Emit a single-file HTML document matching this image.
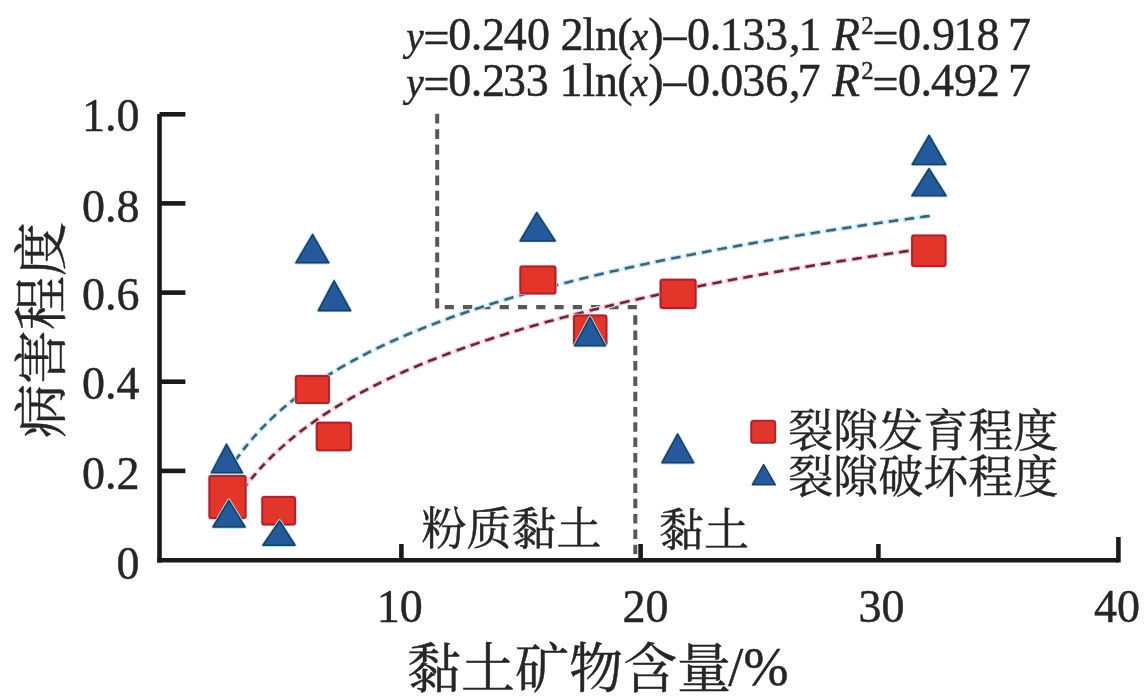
<!DOCTYPE html>
<html><head><meta charset="utf-8"><title>chart</title>
<style>
html,body{margin:0;padding:0;background:#fff;}
body{width:1147px;height:696px;overflow:hidden;}
svg{display:block;filter:blur(0.35px);}
.sq{fill:#e3352a;stroke:#a82430;stroke-width:2;}
.sqh .sq{fill:none;stroke:#f9c4ca;stroke-width:3.4;}
.tr{fill:#245a9b;stroke:#1c3f60;stroke-width:1.6;stroke-linejoin:round;}
.trh .tr{fill:none;stroke:#b4e2f4;stroke-width:3.4;}
text{stroke:#262626;stroke-width:0.45;}
</style></head><body>
<svg width="1147" height="696" viewBox="0 0 1147 696">
<g stroke="#585858" stroke-width="4.0" fill="none"><path d="M437.2,113.8 L437.2,309.5" stroke-dasharray="9.8 5.6"/><path d="M444.7,307.2 L637.5,307.2" stroke-dasharray="9.2 9.1" stroke-width="4.2"/><path d="M635.3,315.2 L635.3,558" stroke-dasharray="9.5 5.8"/></g>
<g fill="none" stroke-linecap="butt">
<path d="M228.2,471.3 232.9,464.1 237.6,457.4 242.2,451.1 246.9,445.2 251.6,439.6 256.3,434.3 261.0,429.2 265.7,424.4 270.3,419.8 275.0,415.4 279.7,411.1 284.4,407.1 289.1,403.1 293.8,399.4 298.4,395.7 303.1,392.2 307.8,388.8 312.5,385.5 317.2,382.3 321.8,379.2 326.5,376.2 331.2,373.3 335.9,370.4 340.6,367.7 345.3,365.0 349.9,362.3 354.6,359.8 359.3,357.3 364.0,354.8 368.7,352.4 373.4,350.1 378.0,347.8 382.7,345.6 387.4,343.4 392.1,341.3 396.8,339.2 401.4,337.1 406.1,335.1 410.8,333.1 415.5,331.2 420.2,329.3 424.9,327.4 429.5,325.6 434.2,323.8 438.9,322.0 443.6,320.2 448.3,318.5 453.0,316.8 457.6,315.2 462.3,313.5 467.0,311.9 471.7,310.3 476.4,308.8 481.0,307.2 485.7,305.7 490.4,304.2 495.1,302.8 499.8,301.3 504.5,299.9 509.1,298.5 513.8,297.1 518.5,295.7 523.2,294.3 527.9,293.0 532.6,291.7 537.2,290.4 541.9,289.1 546.6,287.8 551.3,286.5 556.0,285.3 560.7,284.1 565.3,282.9 570.0,281.7 574.7,280.5 579.4,279.3 584.1,278.1 588.7,277.0 593.4,275.8 598.1,274.7 602.8,273.6 607.5,272.5 612.2,271.4 616.8,270.4 621.5,269.3 626.2,268.2 630.9,267.2 635.6,266.2 640.3,265.1 644.9,264.1 649.6,263.1 654.3,262.1 659.0,261.1 663.7,260.2 668.3,259.2 673.0,258.2 677.7,257.3 682.4,256.4 687.1,255.4 691.8,254.5 696.4,253.6 701.1,252.7 705.8,251.8 710.5,250.9 715.2,250.0 719.9,249.1 724.5,248.3 729.2,247.4 733.9,246.5 738.6,245.7 743.3,244.8 747.9,244.0 752.6,243.2 757.3,242.4 762.0,241.5 766.7,240.7 771.4,239.9 776.0,239.1 780.7,238.4 785.4,237.6 790.1,236.8 794.8,236.0 799.5,235.3 804.1,234.5 808.8,233.7 813.5,233.0 818.2,232.2 822.9,231.5 827.5,230.8 832.2,230.0 836.9,229.3 841.6,228.6 846.3,227.9 851.0,227.2 855.6,226.5 860.3,225.8 865.0,225.1 869.7,224.4 874.4,223.7 879.1,223.0 883.7,222.3 888.4,221.7 893.1,221.0 897.8,220.3 902.5,219.7 907.2,219.0 911.8,218.4 916.5,217.7 921.2,217.1 925.9,216.4 930.6,215.8" stroke="#eaf6fa" stroke-width="3.5"/>
<path d="M228.2,511.0 232.9,503.7 237.6,496.8 242.2,490.3 246.9,484.2 251.6,478.4 256.3,472.9 261.0,467.7 265.7,462.7 270.3,458.0 275.0,453.4 279.7,449.1 284.4,444.9 289.1,440.8 293.8,436.9 298.4,433.2 303.1,429.6 307.8,426.0 312.5,422.7 317.2,419.4 321.8,416.2 326.5,413.1 331.2,410.1 335.9,407.1 340.6,404.3 345.3,401.5 349.9,398.8 354.6,396.1 359.3,393.6 364.0,391.0 368.7,388.6 373.4,386.2 378.0,383.8 382.7,381.5 387.4,379.3 392.1,377.1 396.8,374.9 401.4,372.8 406.1,370.7 410.8,368.7 415.5,366.7 420.2,364.7 424.9,362.8 429.5,360.9 434.2,359.0 438.9,357.2 443.6,355.4 448.3,353.6 453.0,351.9 457.6,350.2 462.3,348.5 467.0,346.8 471.7,345.2 476.4,343.6 481.0,342.0 485.7,340.4 490.4,338.9 495.1,337.4 499.8,335.9 504.5,334.4 509.1,333.0 513.8,331.5 518.5,330.1 523.2,328.7 527.9,327.3 532.6,326.0 537.2,324.6 541.9,323.3 546.6,322.0 551.3,320.7 556.0,319.4 560.7,318.1 565.3,316.9 570.0,315.6 574.7,314.4 579.4,313.2 584.1,312.0 588.7,310.8 593.4,309.7 598.1,308.5 602.8,307.4 607.5,306.2 612.2,305.1 616.8,304.0 621.5,302.9 626.2,301.8 630.9,300.7 635.6,299.7 640.3,298.6 644.9,297.6 649.6,296.5 654.3,295.5 659.0,294.5 663.7,293.5 668.3,292.5 673.0,291.5 677.7,290.5 682.4,289.6 687.1,288.6 691.8,287.7 696.4,286.7 701.1,285.8 705.8,284.9 710.5,283.9 715.2,283.0 719.9,282.1 724.5,281.2 729.2,280.3 733.9,279.5 738.6,278.6 743.3,277.7 747.9,276.9 752.6,276.0 757.3,275.2 762.0,274.3 766.7,273.5 771.4,272.7 776.0,271.8 780.7,271.0 785.4,270.2 790.1,269.4 794.8,268.6 799.5,267.8 804.1,267.0 808.8,266.3 813.5,265.5 818.2,264.7 822.9,264.0 827.5,263.2 832.2,262.5 836.9,261.7 841.6,261.0 846.3,260.2 851.0,259.5 855.6,258.8 860.3,258.1 865.0,257.3 869.7,256.6 874.4,255.9 879.1,255.2 883.7,254.5 888.4,253.8 893.1,253.1 897.8,252.5 902.5,251.8 907.2,251.1 911.8,250.4 916.5,249.8 921.2,249.1 925.9,248.4 930.6,247.8" stroke="#fbe8ec" stroke-width="3.5"/>
<path d="M228.2,471.3 229.6,469.1 231.0,466.9 232.4,464.8M234.8,461.4 236.2,459.4 237.6,457.4 239.0,455.5 239.9,454.2M242.7,450.5 244.1,448.7 245.5,446.9 246.9,445.2 248.3,443.5M250.7,440.7 252.1,439.0 253.5,437.4 254.9,435.8 256.3,434.3 256.8,433.8M259.6,430.7 261.0,429.2 262.4,427.7 263.8,426.3 265.2,424.9 266.1,423.9M268.9,421.1 270.3,419.8 271.7,418.4 273.1,417.1 274.6,415.8 276.0,414.5M279.2,411.5 280.6,410.3 282.0,409.1 283.5,407.9 284.9,406.7 286.3,405.5 286.7,405.1M289.5,402.8 290.9,401.6 292.3,400.5 293.8,399.4 295.2,398.3 296.6,397.2 297.5,396.4M300.8,393.9 302.2,392.9 303.6,391.9 305.0,390.8 306.4,389.8 307.8,388.8 308.7,388.1M312.0,385.8 313.4,384.9 314.8,383.9 316.2,382.9 317.6,382.0 319.0,381.1 320.4,380.1M324.2,377.7 325.6,376.8 327.0,375.9 328.4,375.0 329.8,374.1 331.2,373.3 332.6,372.4 333.1,372.1M336.4,370.2 337.8,369.3 339.2,368.5 340.6,367.7 342.0,366.8 343.4,366.0 344.8,365.2 345.3,365.0M349.0,362.9 350.4,362.1 351.8,361.3 353.2,360.5 354.6,359.8 356.0,359.0 357.4,358.3 358.4,357.8M362.1,355.8 363.5,355.1 364.9,354.3 366.3,353.6 367.7,352.9 369.1,352.2 370.5,351.5 371.5,351.0M375.2,349.2 376.6,348.5 378.0,347.8 379.4,347.2 380.8,346.5 382.2,345.8 383.7,345.2 385.1,344.5M388.8,342.8 390.2,342.1 391.6,341.5 393.0,340.8 394.4,340.2 395.8,339.6 397.2,339.0 398.6,338.3M402.4,336.7 403.8,336.1 405.2,335.5 406.6,334.9 408.0,334.3 409.4,333.7 410.8,333.1 412.2,332.5 412.7,332.3M416.4,330.8 417.8,330.2 419.2,329.7 420.6,329.1 422.1,328.5 423.5,328.0 424.9,327.4 426.3,326.8 426.7,326.7M430.5,325.2 431.9,324.7 433.3,324.1 434.7,323.6 436.1,323.0 437.5,322.5 438.9,322.0 440.3,321.5 440.8,321.3M445.0,319.7 446.4,319.2 447.8,318.7 449.2,318.2 450.6,317.7 452.0,317.2 453.4,316.7 454.8,316.2 455.3,316.0M459.0,314.7 460.4,314.2 461.9,313.7 463.3,313.2 464.7,312.7 466.1,312.2 467.5,311.8 468.9,311.3 469.8,311.0M473.6,309.7 475.0,309.2 476.4,308.8 477.8,308.3 479.2,307.9 480.6,307.4 482.0,306.9 483.4,306.5 484.3,306.2M488.5,304.8 489.9,304.4 491.4,303.9 492.8,303.5 494.2,303.1 495.6,302.6 497.0,302.2 498.4,301.7 498.8,301.6M503.1,300.3 504.5,299.9 505.9,299.4 507.3,299.0 508.7,298.6 510.1,298.2 511.5,297.8 512.9,297.3 513.8,297.1M518.0,295.8 519.4,295.4 520.9,295.0 522.3,294.6 523.7,294.2 525.1,293.8 526.5,293.4 527.9,293.0 528.8,292.7M533.0,291.5 534.4,291.1 535.8,290.8 537.2,290.4 538.6,290.0 540.0,289.6 541.5,289.2 542.9,288.8 543.8,288.6M548.0,287.4 549.4,287.0 550.8,286.7 552.2,286.3 553.6,285.9 555.0,285.5 556.4,285.2 557.8,284.8 558.8,284.6M563.0,283.5 564.4,283.1 565.8,282.7 567.2,282.4 568.6,282.0 570.0,281.7 571.4,281.3 572.8,280.9 573.8,280.7M578.0,279.6 579.4,279.3 580.8,278.9 582.2,278.6 583.6,278.2 585.0,277.9 586.4,277.6 587.8,277.2 588.7,277.0M593.4,275.8 594.8,275.5 596.2,275.2 597.6,274.8 599.0,274.5 600.5,274.2 601.9,273.8 603.3,273.5 604.2,273.3M608.4,272.3 609.8,272.0 611.2,271.6 612.6,271.3 614.0,271.0 615.4,270.7 616.8,270.4 618.2,270.0 619.6,269.7M623.9,268.8 625.3,268.4 626.7,268.1 628.1,267.8 629.5,267.5 630.9,267.2 632.3,266.9 633.7,266.6 634.6,266.4M638.8,265.4 640.3,265.1 641.7,264.8 643.1,264.5 644.5,264.2 645.9,263.9 647.3,263.6 648.7,263.3 650.1,263.0M654.3,262.1 655.7,261.8 657.1,261.5 658.5,261.2 659.9,260.9 661.3,260.6 662.7,260.4 664.1,260.1 665.5,259.8M669.8,258.9 671.2,258.6 672.6,258.3 674.0,258.0 675.4,257.8 676.8,257.5 678.2,257.2 679.6,256.9 681.0,256.6M685.2,255.8 686.6,255.5 688.0,255.2 689.4,255.0 690.8,254.7 692.2,254.4 693.6,254.1 695.0,253.9 696.4,253.6M700.7,252.8 702.1,252.5 703.5,252.2 704.9,252.0 706.3,251.7 707.7,251.4 709.1,251.1 710.5,250.9 711.9,250.6M716.1,249.8 717.5,249.6 718.9,249.3 720.3,249.0 721.7,248.8 723.1,248.5 724.5,248.3 725.9,248.0 727.3,247.7M731.6,247.0 733.0,246.7 734.4,246.5 735.8,246.2 737.2,245.9 738.6,245.7 740.0,245.4 741.4,245.2 742.8,244.9M747.0,244.2 748.4,243.9 749.8,243.7 751.2,243.4 752.6,243.2 754.0,242.9 755.4,242.7 756.8,242.4 758.2,242.2M762.5,241.5 763.9,241.2 765.3,241.0 766.7,240.7 768.1,240.5 769.5,240.3 770.9,240.0 772.3,239.8 773.7,239.5M778.4,238.7 779.8,238.5 781.2,238.3 782.6,238.0 784.0,237.8 785.4,237.6 786.8,237.3 788.2,237.1 789.6,236.9M793.8,236.2 795.2,235.9 796.6,235.7 798.1,235.5 799.5,235.3 800.9,235.0 802.3,234.8 803.7,234.6 805.1,234.3M809.3,233.7 810.7,233.4 812.1,233.2 813.5,233.0 814.9,232.8 816.3,232.5 817.7,232.3 819.1,232.1 820.5,231.9M825.2,231.1 826.6,230.9 828.0,230.7 829.4,230.5 830.8,230.3 832.2,230.0 833.6,229.8 835.0,229.6 836.4,229.4M840.7,228.7 842.1,228.5 843.5,228.3 844.9,228.1 846.3,227.9 847.7,227.7 849.1,227.5 850.5,227.2 851.9,227.0M856.1,226.4 857.5,226.2 858.9,226.0 860.3,225.8 861.7,225.6 863.1,225.4 864.5,225.1 865.9,224.9 867.4,224.7M872.0,224.0 873.4,223.8 874.8,223.6 876.2,223.4 877.7,223.2 879.1,223.0 880.5,222.8 881.9,222.6 883.3,222.4M887.5,221.8 888.9,221.6 890.3,221.4 891.7,221.2 893.1,221.0 894.5,220.8 895.9,220.6 897.3,220.4 898.7,220.2M903.4,219.5 904.8,219.4 906.2,219.2 907.6,219.0 909.0,218.8 910.4,218.6 911.8,218.4 913.2,218.2 914.6,218.0M918.9,217.4 920.3,217.2 921.7,217.0 923.1,216.8 924.5,216.6 925.9,216.4 927.3,216.3 928.7,216.1 930.1,215.9" stroke="#c6e7f2" stroke-width="5"/>
<path d="M228.2,511.0 229.6,508.8 231.0,506.5 232.4,504.4M234.8,500.8 236.2,498.8 237.6,496.8 239.0,494.8 239.9,493.5M242.2,490.3 243.6,488.4 245.1,486.6 246.5,484.8 247.9,483.0M250.2,480.1 251.6,478.4 253.0,476.7 254.4,475.1 255.8,473.4 256.3,472.9M259.1,469.7 260.5,468.2 261.9,466.7 263.3,465.2 264.7,463.7 265.2,463.2M268.0,460.3 269.4,458.9 270.8,457.5 272.2,456.1 273.6,454.8 275.0,453.4M277.8,450.8 279.2,449.5 280.6,448.2 282.0,446.9 283.5,445.7 284.9,444.4M288.1,441.6 289.5,440.4 290.9,439.3 292.3,438.1 293.8,436.9 295.2,435.8 295.6,435.4M298.9,432.8 300.3,431.7 301.7,430.6 303.1,429.6 304.5,428.5 305.9,427.4 306.9,426.7M310.1,424.3 311.5,423.3 312.9,422.3 314.4,421.3 315.8,420.3 317.2,419.4 318.6,418.4M321.8,416.2 323.3,415.2 324.7,414.3 326.1,413.4 327.5,412.5 328.9,411.6 330.3,410.7M334.0,408.3 335.4,407.4 336.8,406.5 338.2,405.7 339.6,404.8 341.0,404.0 342.4,403.2 342.9,402.9M346.2,400.9 347.6,400.1 349.0,399.3 350.4,398.5 351.8,397.7 353.2,396.9 354.6,396.1 355.6,395.6M359.3,393.6 360.7,392.8 362.1,392.0 363.5,391.3 364.9,390.6 366.3,389.8 367.7,389.1 368.7,388.6M372.4,386.7 373.8,385.9 375.2,385.2 376.6,384.5 378.0,383.8 379.4,383.1 380.8,382.4 381.8,382.0M385.5,380.2 386.9,379.5 388.3,378.8 389.7,378.2 391.1,377.5 392.6,376.9 394.0,376.2 395.4,375.6M399.1,373.8 400.5,373.2 401.9,372.6 403.3,372.0 404.7,371.3 406.1,370.7 407.5,370.1 408.9,369.5M413.2,367.7 414.6,367.1 416.0,366.5 417.4,365.9 418.8,365.3 420.2,364.7 421.6,364.1 423.0,363.6M426.7,362.0 428.1,361.5 429.5,360.9 430.9,360.3 432.4,359.8 433.8,359.2 435.2,358.7 436.6,358.1 437.0,357.9M441.2,356.3 442.7,355.8 444.1,355.2 445.5,354.7 446.9,354.2 448.3,353.6 449.7,353.1 451.1,352.6M455.3,351.0 456.7,350.5 458.1,350.0 459.5,349.5 460.9,349.0 462.3,348.5 463.7,348.0 465.1,347.5 465.6,347.3M469.8,345.9 471.2,345.4 472.6,344.9 474.0,344.4 475.4,343.9 476.8,343.4 478.2,343.0 479.6,342.5 480.1,342.3M484.3,340.9 485.7,340.4 487.1,340.0 488.5,339.5 489.9,339.1 491.4,338.6 492.8,338.1 494.2,337.7 494.6,337.5M498.8,336.2 500.2,335.7 501.7,335.3 503.1,334.9 504.5,334.4 505.9,334.0 507.3,333.5 508.7,333.1 509.6,332.8M513.8,331.5 515.2,331.1 516.6,330.7 518.0,330.2 519.4,329.8 520.9,329.4 522.3,329.0 523.7,328.6 524.1,328.4M528.3,327.2 529.7,326.8 531.2,326.4 532.6,326.0 534.0,325.6 535.4,325.2 536.8,324.8 538.2,324.4 539.1,324.1M543.3,322.9 544.7,322.5 546.1,322.1 547.5,321.7 548.9,321.3 550.3,320.9 551.8,320.6 553.2,320.2 554.1,319.9M558.3,318.8 559.7,318.4 561.1,318.0 562.5,317.6 563.9,317.3 565.3,316.9 566.7,316.5 568.1,316.1 569.1,315.9M573.3,314.8 574.7,314.4 576.1,314.1 577.5,313.7 578.9,313.3 580.3,313.0 581.7,312.6 583.1,312.3 584.1,312.0M588.7,310.8 590.2,310.5 591.6,310.1 593.0,309.8 594.4,309.4 595.8,309.1 597.2,308.7 598.6,308.4 599.5,308.2M603.7,307.1 605.1,306.8 606.5,306.5 607.9,306.1 609.3,305.8 610.8,305.4 612.2,305.1 613.6,304.8 614.5,304.6M618.7,303.6 620.1,303.2 621.5,302.9 622.9,302.6 624.3,302.2 625.7,301.9 627.1,301.6 628.5,301.3 630.0,301.0M634.2,300.0 635.6,299.7 637.0,299.4 638.4,299.0 639.8,298.7 641.2,298.4 642.6,298.1 644.0,297.8 644.9,297.6M649.6,296.5 651.0,296.2 652.4,295.9 653.8,295.6 655.2,295.3 656.6,295.0 658.0,294.7 659.5,294.4 660.4,294.2M664.6,293.3 666.0,293.0 667.4,292.7 668.8,292.4 670.2,292.1 671.6,291.8 673.0,291.5 674.4,291.2 675.8,290.9M680.1,290.1 681.5,289.8 682.9,289.5 684.3,289.2 685.7,288.9 687.1,288.6 688.5,288.3 689.9,288.0 691.3,287.8M695.5,286.9 696.9,286.6 698.3,286.3 699.7,286.1 701.1,285.8 702.5,285.5 703.9,285.2 705.3,284.9 706.7,284.7M711.0,283.8 712.4,283.6 713.8,283.3 715.2,283.0 716.6,282.8 718.0,282.5 719.4,282.2 720.8,281.9 722.2,281.7M726.4,280.9 727.8,280.6 729.2,280.3 730.6,280.1 732.0,279.8 733.4,279.5 734.8,279.3 736.2,279.0 737.6,278.8M741.9,278.0 743.3,277.7 744.7,277.5 746.1,277.2 747.5,276.9 748.9,276.7 750.3,276.4 751.7,276.2 753.1,275.9M757.3,275.2 758.7,274.9 760.1,274.7 761.5,274.4 762.9,274.2 764.3,273.9 765.7,273.7 767.1,273.4 768.6,273.2M772.8,272.4 774.2,272.2 775.6,271.9 777.0,271.7 778.4,271.4 779.8,271.2 781.2,270.9 782.6,270.7 784.0,270.5M788.7,269.7 790.1,269.4 791.5,269.2 792.9,268.9 794.3,268.7 795.7,268.5 797.1,268.2 798.5,268.0 799.9,267.7M804.1,267.0 805.5,266.8 806.9,266.6 808.4,266.3 809.8,266.1 811.2,265.9 812.6,265.6 814.0,265.4 815.4,265.2M819.6,264.5 821.0,264.3 822.4,264.0 823.8,263.8 825.2,263.6 826.6,263.4 828.0,263.1 829.4,262.9 830.8,262.7M835.5,261.9 836.9,261.7 838.3,261.5 839.7,261.3 841.1,261.0 842.5,260.8 843.9,260.6 845.3,260.4 846.7,260.2M851.0,259.5 852.4,259.3 853.8,259.1 855.2,258.9 856.6,258.6 858.0,258.4 859.4,258.2 860.8,258.0 862.2,257.8M866.4,257.1 867.8,256.9 869.2,256.7 870.6,256.5 872.0,256.3 873.4,256.1 874.8,255.9 876.2,255.6 877.7,255.4M882.3,254.7 883.7,254.5 885.1,254.3 886.5,254.1 888.0,253.9 889.4,253.7 890.8,253.5 892.2,253.3 893.6,253.1M897.8,252.5 899.2,252.3 900.6,252.1 902.0,251.8 903.4,251.6 904.8,251.4 906.2,251.2 907.6,251.0 909.0,250.8M913.7,250.2 915.1,250.0 916.5,249.8 917.9,249.6 919.3,249.4 920.7,249.2 922.1,249.0 923.5,248.8 924.9,248.6M929.2,248.0 930.6,247.8" stroke="#f6c8d3" stroke-width="5"/>
<path d="M228.2,471.3 229.6,469.1 231.0,466.9 232.4,464.8M235.2,460.7 236.6,458.7 238.0,456.8 239.4,454.9 239.9,454.2M243.2,449.9 244.6,448.1 246.0,446.4 247.4,444.6 247.9,444.1M251.6,439.6 253.0,438.0 254.4,436.4 255.8,434.8 256.8,433.8M260.5,429.7 261.9,428.2 263.3,426.8 264.7,425.3 266.1,423.9M269.9,420.2 271.3,418.9 272.7,417.5 274.1,416.2 275.5,414.9 276.0,414.5M280.2,410.7 281.6,409.5 283.0,408.3 284.4,407.1 285.8,405.9 286.3,405.5M290.5,402.0 291.9,400.9 293.3,399.7 294.7,398.6 296.1,397.5 297.0,396.8M301.7,393.2 303.1,392.2 304.5,391.2 305.9,390.1 307.3,389.1 308.3,388.5M313.4,384.9 314.8,383.9 316.2,382.9 317.6,382.0 319.0,381.1 320.4,380.1M325.1,377.1 326.5,376.2 327.9,375.3 329.3,374.4 330.7,373.6 332.1,372.7 332.6,372.4M337.3,369.6 338.7,368.8 340.1,367.9 341.5,367.1 342.9,366.3 344.3,365.5 345.3,365.0M350.4,362.1 351.8,361.3 353.2,360.5 354.6,359.8 356.0,359.0 357.4,358.3 357.9,358.0M363.1,355.3 364.5,354.6 365.9,353.9 367.3,353.2 368.7,352.4 370.1,351.7 371.0,351.3M376.6,348.5 378.0,347.8 379.4,347.2 380.8,346.5 382.2,345.8 383.7,345.2 384.6,344.7M390.2,342.1 391.6,341.5 393.0,340.8 394.4,340.2 395.8,339.6 397.2,339.0 398.2,338.5M403.8,336.1 405.2,335.5 406.6,334.9 408.0,334.3 409.4,333.7 410.8,333.1 412.2,332.5M417.8,330.2 419.2,329.7 420.6,329.1 422.1,328.5 423.5,328.0 424.9,327.4 426.3,326.8M431.9,324.7 433.3,324.1 434.7,323.6 436.1,323.0 437.5,322.5 438.9,322.0 440.3,321.5M445.9,319.4 447.3,318.9 448.7,318.4 450.1,317.8 451.5,317.3 453.0,316.8 454.4,316.3 454.8,316.2M460.4,314.2 461.9,313.7 463.3,313.2 464.7,312.7 466.1,312.2 467.5,311.8 468.9,311.3 469.3,311.1M475.0,309.2 476.4,308.8 477.8,308.3 479.2,307.9 480.6,307.4 482.0,306.9 483.4,306.5 483.9,306.3M489.5,304.5 490.9,304.1 492.3,303.6 493.7,303.2 495.1,302.8 496.5,302.3 497.9,301.9 498.4,301.7M504.5,299.9 505.9,299.4 507.3,299.0 508.7,298.6 510.1,298.2 511.5,297.8 512.9,297.3 513.4,297.2M519.4,295.4 520.9,295.0 522.3,294.6 523.7,294.2 525.1,293.8 526.5,293.4 527.9,293.0 528.3,292.9M534.0,291.3 535.4,290.9 536.8,290.5 538.2,290.1 539.6,289.7 541.0,289.3 542.4,288.9 543.3,288.7M548.9,287.2 550.3,286.8 551.8,286.4 553.2,286.0 554.6,285.7 556.0,285.3 557.4,284.9 558.3,284.7M564.4,283.1 565.8,282.7 567.2,282.4 568.6,282.0 570.0,281.7 571.4,281.3 572.8,280.9 573.3,280.8M579.4,279.3 580.8,278.9 582.2,278.6 583.6,278.2 585.0,277.9 586.4,277.6 587.8,277.2 588.3,277.1M594.4,275.6 595.8,275.3 597.2,275.0 598.6,274.6 600.0,274.3 601.4,273.9 602.8,273.6 603.7,273.4M609.8,272.0 611.2,271.6 612.6,271.3 614.0,271.0 615.4,270.7 616.8,270.4 618.2,270.0 618.7,269.9M624.8,268.5 626.2,268.2 627.6,267.9 629.0,267.6 630.4,267.3 631.8,267.0 633.2,266.7 634.2,266.5M640.3,265.1 641.7,264.8 643.1,264.5 644.5,264.2 645.9,263.9 647.3,263.6 648.7,263.3 649.6,263.1M655.7,261.8 657.1,261.5 658.5,261.2 659.9,260.9 661.3,260.6 662.7,260.4 664.1,260.1 665.1,259.9M671.2,258.6 672.6,258.3 674.0,258.0 675.4,257.8 676.8,257.5 678.2,257.2 679.6,256.9 680.5,256.7M686.6,255.5 688.0,255.2 689.4,255.0 690.8,254.7 692.2,254.4 693.6,254.1 695.0,253.9 696.0,253.7M702.1,252.5 703.5,252.2 704.9,252.0 706.3,251.7 707.7,251.4 709.1,251.1 710.5,250.9 711.4,250.7M717.5,249.6 718.9,249.3 720.3,249.0 721.7,248.8 723.1,248.5 724.5,248.3 725.9,248.0 726.9,247.8M733.0,246.7 734.4,246.5 735.8,246.2 737.2,245.9 738.6,245.7 740.0,245.4 741.4,245.2 742.3,245.0M748.4,243.9 749.8,243.7 751.2,243.4 752.6,243.2 754.0,242.9 755.4,242.7 756.8,242.4 757.8,242.3M763.9,241.2 765.3,241.0 766.7,240.7 768.1,240.5 769.5,240.3 770.9,240.0 772.3,239.8 773.2,239.6M779.3,238.6 780.7,238.4 782.1,238.1 783.5,237.9 784.9,237.6 786.3,237.4 787.7,237.2 788.7,237.0M795.2,235.9 796.6,235.7 798.1,235.5 799.5,235.3 800.9,235.0 802.3,234.8 803.7,234.6 804.6,234.4M810.7,233.4 812.1,233.2 813.5,233.0 814.9,232.8 816.3,232.5 817.7,232.3 819.1,232.1 820.1,231.9M826.1,231.0 827.5,230.8 829.0,230.5 830.4,230.3 831.8,230.1 833.2,229.9 834.6,229.7 836.0,229.5M842.1,228.5 843.5,228.3 844.9,228.1 846.3,227.9 847.7,227.7 849.1,227.5 850.5,227.2 851.4,227.1M857.5,226.2 858.9,226.0 860.3,225.8 861.7,225.6 863.1,225.4 864.5,225.1 865.9,224.9 866.9,224.8M873.4,223.8 874.8,223.6 876.2,223.4 877.7,223.2 879.1,223.0 880.5,222.8 881.9,222.6 882.8,222.5M888.9,221.6 890.3,221.4 891.7,221.2 893.1,221.0 894.5,220.8 895.9,220.6 897.3,220.4 898.3,220.3M904.8,219.4 906.2,219.2 907.6,219.0 909.0,218.8 910.4,218.6 911.8,218.4 913.2,218.2 914.2,218.0M920.3,217.2 921.7,217.0 923.1,216.8 924.5,216.6 925.9,216.4 927.3,216.3 928.7,216.1 929.6,215.9" stroke="#3d6476" stroke-width="2.6"/>
<path d="M228.2,511.0 229.6,508.8 231.0,506.5 232.4,504.4M235.2,500.1 236.6,498.1 238.0,496.1 239.4,494.1M242.7,489.7 244.1,487.8 245.5,486.0 246.9,484.2 247.4,483.6M251.1,479.0 252.5,477.3 254.0,475.6 255.4,474.0 255.8,473.4M259.6,469.2 261.0,467.7 262.4,466.2 263.8,464.7 264.7,463.7M268.9,459.4 270.3,458.0 271.7,456.6 273.1,455.2 274.6,453.9M278.8,449.9 280.2,448.6 281.6,447.4 283.0,446.1 284.4,444.9 284.9,444.4M289.1,440.8 290.5,439.6 291.9,438.5 293.3,437.3 294.7,436.2 295.2,435.8M299.8,432.1 301.2,431.0 302.6,429.9 304.1,428.8 305.5,427.8 306.4,427.1M311.1,423.7 312.5,422.7 313.9,421.7 315.3,420.7 316.7,419.7 318.1,418.7M322.8,415.5 324.2,414.6 325.6,413.7 327.0,412.8 328.4,411.9 329.8,411.0 330.3,410.7M335.0,407.7 336.4,406.8 337.8,406.0 339.2,405.1 340.6,404.3 342.0,403.4 342.4,403.2M347.6,400.1 349.0,399.3 350.4,398.5 351.8,397.7 353.2,396.9 354.6,396.1 355.1,395.9M360.2,393.1 361.6,392.3 363.1,391.5 364.5,390.8 365.9,390.1 367.3,389.3 368.2,388.8M373.4,386.2 374.8,385.5 376.2,384.8 377.6,384.1 379.0,383.4 380.4,382.7 381.3,382.2M386.9,379.5 388.3,378.8 389.7,378.2 391.1,377.5 392.6,376.9 394.0,376.2 394.9,375.8M400.5,373.2 401.9,372.6 403.3,372.0 404.7,371.3 406.1,370.7 407.5,370.1 408.5,369.7M414.1,367.3 415.5,366.7 416.9,366.1 418.3,365.5 419.7,364.9 421.1,364.3 422.5,363.7M428.1,361.5 429.5,360.9 430.9,360.3 432.4,359.8 433.8,359.2 435.2,358.7 436.6,358.1M442.2,355.9 443.6,355.4 445.0,354.9 446.4,354.3 447.8,353.8 449.2,353.3 450.6,352.8M456.7,350.5 458.1,350.0 459.5,349.5 460.9,349.0 462.3,348.5 463.7,348.0 465.1,347.5M470.7,345.5 472.2,345.0 473.6,344.6 475.0,344.1 476.4,343.6 477.8,343.1 479.2,342.6 479.6,342.5M485.3,340.6 486.7,340.1 488.1,339.7 489.5,339.2 490.9,338.8 492.3,338.3 493.7,337.8 494.2,337.7M500.2,335.7 501.7,335.3 503.1,334.9 504.5,334.4 505.9,334.0 507.3,333.5 508.7,333.1 509.1,333.0M514.8,331.2 516.2,330.8 517.6,330.4 519.0,330.0 520.4,329.5 521.8,329.1 523.2,328.7 523.7,328.6M529.7,326.8 531.2,326.4 532.6,326.0 534.0,325.6 535.4,325.2 536.8,324.8 538.2,324.4 538.6,324.2M544.7,322.5 546.1,322.1 547.5,321.7 548.9,321.3 550.3,320.9 551.8,320.6 553.2,320.2 553.6,320.0M559.7,318.4 561.1,318.0 562.5,317.6 563.9,317.3 565.3,316.9 566.7,316.5 568.1,316.1 568.6,316.0M574.7,314.4 576.1,314.1 577.5,313.7 578.9,313.3 580.3,313.0 581.7,312.6 583.1,312.3 583.6,312.1M589.7,310.6 591.1,310.2 592.5,309.9 593.9,309.5 595.3,309.2 596.7,308.9 598.1,308.5 599.0,308.3M605.1,306.8 606.5,306.5 607.9,306.1 609.3,305.8 610.8,305.4 612.2,305.1 613.6,304.8 614.0,304.7M620.1,303.2 621.5,302.9 622.9,302.6 624.3,302.2 625.7,301.9 627.1,301.6 628.5,301.3 629.5,301.1M635.6,299.7 637.0,299.4 638.4,299.0 639.8,298.7 641.2,298.4 642.6,298.1 644.0,297.8 644.5,297.7M650.6,296.3 652.0,296.0 653.4,295.7 654.8,295.4 656.2,295.1 657.6,294.8 659.0,294.5 659.9,294.3M666.0,293.0 667.4,292.7 668.8,292.4 670.2,292.1 671.6,291.8 673.0,291.5 674.4,291.2 675.4,291.0M681.5,289.8 682.9,289.5 684.3,289.2 685.7,288.9 687.1,288.6 688.5,288.3 689.9,288.0 690.8,287.8M696.9,286.6 698.3,286.3 699.7,286.1 701.1,285.8 702.5,285.5 703.9,285.2 705.3,284.9 706.3,284.8M712.4,283.6 713.8,283.3 715.2,283.0 716.6,282.8 718.0,282.5 719.4,282.2 720.8,281.9 721.7,281.8M727.8,280.6 729.2,280.3 730.6,280.1 732.0,279.8 733.4,279.5 734.8,279.3 736.2,279.0 737.2,278.8M743.3,277.7 744.7,277.5 746.1,277.2 747.5,276.9 748.9,276.7 750.3,276.4 751.7,276.2 752.6,276.0M758.7,274.9 760.1,274.7 761.5,274.4 762.9,274.2 764.3,273.9 765.7,273.7 767.1,273.4 768.1,273.2M774.2,272.2 775.6,271.9 777.0,271.7 778.4,271.4 779.8,271.2 781.2,270.9 782.6,270.7 783.5,270.5M789.6,269.5 791.0,269.3 792.4,269.0 793.8,268.8 795.2,268.5 796.6,268.3 798.1,268.1 799.5,267.8M805.5,266.8 806.9,266.6 808.4,266.3 809.8,266.1 811.2,265.9 812.6,265.6 814.0,265.4 814.9,265.3M821.0,264.3 822.4,264.0 823.8,263.8 825.2,263.6 826.6,263.4 828.0,263.1 829.4,262.9 830.4,262.8M836.4,261.8 837.9,261.6 839.3,261.3 840.7,261.1 842.1,260.9 843.5,260.7 844.9,260.5 845.8,260.3M852.4,259.3 853.8,259.1 855.2,258.9 856.6,258.6 858.0,258.4 859.4,258.2 860.8,258.0 861.7,257.8M867.8,256.9 869.2,256.7 870.6,256.5 872.0,256.3 873.4,256.1 874.8,255.9 876.2,255.6 877.2,255.5M883.7,254.5 885.1,254.3 886.5,254.1 888.0,253.9 889.4,253.7 890.8,253.5 892.2,253.3 893.1,253.1M899.2,252.3 900.6,252.1 902.0,251.8 903.4,251.6 904.8,251.4 906.2,251.2 907.6,251.0 908.6,250.9M914.6,250.0 916.0,249.8 917.5,249.6 918.9,249.4 920.3,249.2 921.7,249.0 923.1,248.8 924.5,248.6" stroke="#62283c" stroke-width="2.6"/>
</g>
<g class="sqh">
<rect x="209.4" y="475.9" width="36.2" height="42.2" rx="2" class="sq"/>
<rect x="262.3" y="496.9" width="32.7" height="27.5" rx="2" class="sq"/>
<rect x="295.9" y="376.0" width="33.0" height="26.9" rx="2" class="sq"/>
<rect x="316.8" y="422.7" width="34.1" height="27.6" rx="2" class="sq"/>
<rect x="520.4" y="266.4" width="35.0" height="27.0" rx="2" class="sq"/>
<rect x="574.0" y="315.4" width="32.4" height="29.5" rx="2" class="sq"/>
<rect x="660.6" y="279.7" width="35.0" height="28.4" rx="2" class="sq"/>
<rect x="912.1" y="235.4" width="33.4" height="30.6" rx="2" class="sq"/>
</g><g>
<rect x="209.4" y="475.9" width="36.2" height="42.2" rx="2" class="sq"/>
<rect x="262.3" y="496.9" width="32.7" height="27.5" rx="2" class="sq"/>
<rect x="295.9" y="376.0" width="33.0" height="26.9" rx="2" class="sq"/>
<rect x="316.8" y="422.7" width="34.1" height="27.6" rx="2" class="sq"/>
<rect x="520.4" y="266.4" width="35.0" height="27.0" rx="2" class="sq"/>
<rect x="574.0" y="315.4" width="32.4" height="29.5" rx="2" class="sq"/>
<rect x="660.6" y="279.7" width="35.0" height="28.4" rx="2" class="sq"/>
<rect x="912.1" y="235.4" width="33.4" height="30.6" rx="2" class="sq"/>
</g><g class="trh">
<path d="M226.5,444.3 L242.4,472.8 L211.4,472.8 Z" class="tr"/>
<path d="M228.8,500.3 L245.0,527.0 L213.0,527.0 Z" class="tr"/>
<path d="M279.5,521.0 L295.0,545.2 L263.0,545.2 Z" class="tr"/>
<path d="M312.6,234.6 L328.7,262.8 L295.9,262.8 Z" class="tr"/>
<path d="M334.1,280.8 L350.6,310.6 L318.3,310.6 Z" class="tr"/>
<path d="M536.8,212.6 L555.2,240.9 L520.2,240.9 Z" class="tr"/>
<path d="M590.0,317.5 L605.3,345.7 L574.7,345.7 Z" class="tr"/>
<path d="M677.6,434.2 L693.5,462.7 L662.0,462.7 Z" class="tr"/>
<path d="M929.1,135.4 L945.7,164.5 L912.3,164.5 Z" class="tr"/>
<path d="M929.0,168.8 L946.0,195.7 L912.0,195.7 Z" class="tr"/>
</g><g>
<path d="M226.5,444.3 L242.4,472.8 L211.4,472.8 Z" class="tr"/>
<path d="M228.8,500.3 L245.0,527.0 L213.0,527.0 Z" class="tr"/>
<path d="M279.5,521.0 L295.0,545.2 L263.0,545.2 Z" class="tr"/>
<path d="M312.6,234.6 L328.7,262.8 L295.9,262.8 Z" class="tr"/>
<path d="M334.1,280.8 L350.6,310.6 L318.3,310.6 Z" class="tr"/>
<path d="M536.8,212.6 L555.2,240.9 L520.2,240.9 Z" class="tr"/>
<path d="M590.0,317.5 L605.3,345.7 L574.7,345.7 Z" class="tr"/>
<path d="M677.6,434.2 L693.5,462.7 L662.0,462.7 Z" class="tr"/>
<path d="M929.1,135.4 L945.7,164.5 L912.3,164.5 Z" class="tr"/>
<path d="M929.0,168.8 L946.0,195.7 L912.0,195.7 Z" class="tr"/>
</g>
<g stroke="#1a1a1a" stroke-width="4.6" fill="none" stroke-linecap="butt">
<path d="M159.5,113.9 L159.5,562.5"/>
<path d="M157.2,560.3 L1118.3,560.3"/>
<path d="M159.5,470.9 L185.4,470.9"/>
<path d="M159.5,381.7 L185.4,381.7"/>
<path d="M159.5,292.6 L185.4,292.6"/>
<path d="M159.5,203.4 L185.4,203.4"/>
<path d="M159.5,114.3 L185.4,114.3"/>
<path d="M401.4,560 L401.4,544"/>
<path d="M640.6,560 L640.6,544"/>
<path d="M878.4,560 L878.4,544"/>
<path d="M1118.4,562.5 L1118.4,537"/>
</g>
<g font-family="Liberation Serif, serif" font-size="46" fill="#262626" text-anchor="end">
<text x="139.6" y="578.6">0</text>
<text x="139.6" y="488.6">0.2</text>
<text x="139.6" y="399.0">0.4</text>
<text x="139.6" y="310.0">0.6</text>
<text x="139.6" y="222.2">0.8</text>
<text x="139.6" y="131.4">1.0</text>
</g>
<g font-family="Liberation Serif, serif" font-size="46" fill="#262626">
<text x="376.8" y="621.6">10</text>
<text x="622.5" y="621.6">20</text>
<text x="858.4" y="621.6">30</text>
<text x="1093.9" y="621.6">40</text>
</g>
<text transform="translate(60.7,330) rotate(-90)" text-anchor="middle" font-family="Liberation Serif, Noto Serif CJK SC, serif" font-size="54" fill="#262626">病害程度</text>
<text x="407" y="687.6" font-family="Liberation Serif, Noto Serif CJK SC, serif" font-size="54" fill="#262626">黏土矿物含量<tspan x="728.3" y="685.4">/</tspan><tspan x="743.5" y="685.4">%</tspan></text>
<text x="421.5" y="544.5" font-family="Liberation Serif, Noto Serif CJK SC, serif" font-size="45" fill="#262626">粉质黏土</text>
<text x="659" y="546" font-family="Liberation Serif, Noto Serif CJK SC, serif" font-size="45" fill="#262626">黏土</text>
<rect x="751.2" y="420.8" width="24" height="22" rx="2.5" class="sq"/>
<path d="M763.6,464.6 L775.2,484.7 L752.4,484.7 Z" class="tr"/>
<g font-family="Liberation Serif, Noto Serif CJK SC, serif" font-size="45" fill="#262626">
<text x="788.3" y="447">裂隙发育程度</text>
<text x="788.3" y="493">裂隙破坏程度</text>
</g>
<g font-family="Liberation Serif, serif" font-size="46" fill="#262626">
<text><tspan x="406.2" y="49.8" font-style="italic" font-size="39.5">y</tspan><tspan x="423.4" y="53.2">=</tspan><tspan x="448.2" y="49.8">0</tspan><tspan x="470.8" y="49.8">.</tspan><tspan x="482.1" y="49.8">2</tspan><tspan x="503.7" y="49.8">4</tspan><tspan x="526.9" y="49.8">0</tspan><tspan x="560.6" y="49.8">2</tspan><tspan x="582.6" y="49.8">l</tspan><tspan x="595.0" y="49.8">n</tspan><tspan x="617.3" y="49.8">(</tspan><tspan x="630.6" y="49.8" font-style="italic" font-size="40">x</tspan><tspan x="648.3" y="49.8">)</tspan><tspan x="663.6" y="49.8">–</tspan><tspan x="687.1" y="49.8">0</tspan><tspan x="709.7" y="49.8">.</tspan><tspan x="719.8" y="49.8">1</tspan><tspan x="742.3" y="49.8">3</tspan><tspan x="765.0" y="49.8">3</tspan><tspan x="789.1" y="49.8">,</tspan><tspan x="798.5" y="49.8">1</tspan><tspan x="832.3" y="49.8" font-style="italic" font-size="45.5">R</tspan><tspan x="861.2" y="33.6" font-size="24.8">2</tspan><tspan x="872.6" y="53.2">=</tspan><tspan x="898.1" y="49.8">0</tspan><tspan x="920.4" y="49.8">.</tspan><tspan x="931.9" y="49.8">9</tspan><tspan x="953.5" y="49.8">1</tspan><tspan x="976.6" y="49.8">8</tspan><tspan x="1008.1" y="49.8">7</tspan></text>
<text><tspan x="406.2" y="95.6" font-style="italic" font-size="39.5">y</tspan><tspan x="423.4" y="99.0">=</tspan><tspan x="448.2" y="95.6">0</tspan><tspan x="470.8" y="95.6">.</tspan><tspan x="482.1" y="95.6">2</tspan><tspan x="502.9" y="95.6">3</tspan><tspan x="525.8" y="95.6">3</tspan><tspan x="559.5" y="95.6">1</tspan><tspan x="582.6" y="95.6">l</tspan><tspan x="595.0" y="95.6">n</tspan><tspan x="617.3" y="95.6">(</tspan><tspan x="630.6" y="95.6" font-style="italic" font-size="40">x</tspan><tspan x="648.3" y="95.6">)</tspan><tspan x="663.6" y="95.6">–</tspan><tspan x="687.1" y="95.6">0</tspan><tspan x="709.7" y="95.6">.</tspan><tspan x="720.2" y="95.6">0</tspan><tspan x="742.3" y="95.6">3</tspan><tspan x="765.3" y="95.6">6</tspan><tspan x="788.9" y="95.6">,</tspan><tspan x="797.4" y="95.6">7</tspan><tspan x="832.3" y="95.6" font-style="italic" font-size="45.5">R</tspan><tspan x="861.2" y="79.4" font-size="24.8">2</tspan><tspan x="872.6" y="99.0">=</tspan><tspan x="898.1" y="95.6">0</tspan><tspan x="920.4" y="95.6">.</tspan><tspan x="930.9" y="95.6">4</tspan><tspan x="954.1" y="95.6">9</tspan><tspan x="976.8" y="95.6">2</tspan><tspan x="1008.1" y="95.6">7</tspan></text>
</g>
</svg>
</body></html>
